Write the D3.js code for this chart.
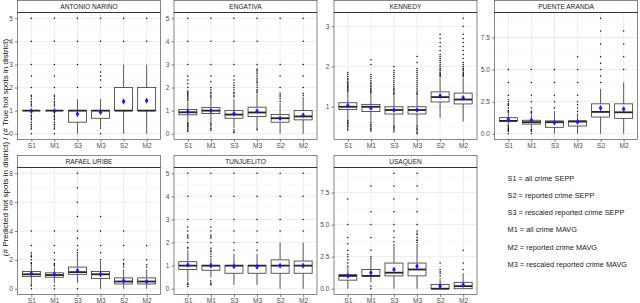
<!DOCTYPE html>
<html>
<head>
<meta charset="utf-8">
<script src="https://cdn.jsdelivr.net/npm/d3@7"></script>
<style>
  body { margin: 0; background: #fff; }
  svg { display: block; font-family: "Liberation Sans", Arial, sans-serif; }
</style>
</head>
<body>
<svg id="chart" width="640" height="303"></svg>
<script>
// categories
const districts = ["ANTONIO NARINO", "ENGATIVA", "KENNEDY", "PUENTE ARANDA",
  "RAFAEL URIBE", "TUNJUELITO", "USAQUEN"];
const methods = ["S1", "M1", "S3", "M3", "S2", "M2"];

// y ticks per district
const yTicks = [
  [0, 1, 2, 3, 4, 5],
  [0, 1, 2, 3, 4, 5],
  [1, 2, 3],
  [0, 2.5, 5, 7.5],
  [0, 2, 4, 6, 8],
  [0, 1, 2, 3, 4, 5],
  [0, 2.5, 5, 7.5]
];
const yMinor = [
  [0.5, 1.5, 2.5, 3.5, 4.5],
  [0.5, 1.5, 2.5, 3.5, 4.5],
  [0.5, 1.5, 2.5],
  [1.25, 3.75, 6.25, 8.75],
  [1, 3, 5, 7],
  [0.5, 1.5, 2.5, 3.5, 4.5],
  [1.25, 3.75, 6.25, 8.75]
];
const yFormat = ["d", "d", "d", ".1f", "d", "d", ".1f"];

// box stats, method order: [lower whisker, q1, median, q3, upper whisker, mean]
const statsAntonio = [
  [1, 1, 1, 1, 1, 0.98], [1, 1, 1, 1, 1, 0.98], [0, 0.5, 1, 1, 1.5, 0.85],
  [0.2, 0.67, 1, 1, 1.5, 0.93], [0, 1, 1, 2, 3, 1.4], [0, 1, 1, 2, 3, 1.43]
];
const statsEngativa = [
  [0.55, 0.82, 0.93, 1.05, 1.4, 0.95], [0.5, 0.88, 1.0, 1.13, 1.5, 1.0],
  [0.25, 0.67, 0.83, 1.0, 1.5, 0.87], [0.25, 0.75, 0.92, 1.15, 1.75, 0.98],
  [0, 0.5, 0.67, 0.83, 1.33, 0.67], [0, 0.6, 0.75, 1.0, 1.6, 0.8]
];
const statsKennedy = [
  [0.7, 0.93, 1.0, 1.1, 1.35, 1.03], [0.62, 0.88, 1.0, 1.06, 1.33, 0.97],
  [0.55, 0.82, 0.92, 1.0, 1.27, 0.92], [0.55, 0.82, 0.92, 1.0, 1.27, 0.92],
  [0.72, 1.12, 1.24, 1.37, 1.72, 1.27], [0.63, 1.07, 1.18, 1.34, 1.72, 1.22]
];
const statsPuente = [
  [0.75, 1.0, 1.0, 1.25, 1.6, 1.1], [0.4, 0.75, 0.9, 1.05, 1.5, 1.05],
  [0, 0.5, 0.9, 1.0, 1.75, 0.87], [0, 0.6, 0.95, 1.0, 1.6, 0.92],
  [0, 1.3, 1.7, 2.33, 3.5, 2.0], [0, 1.2, 1.67, 2.33, 4.0, 1.92]
];
const statsRafael = [
  [0.33, 0.85, 1.0, 1.2, 1.7, 1.05], [0.4, 0.8, 0.95, 1.1, 1.5, 1.0],
  [0.4, 1.0, 1.15, 1.5, 2.25, 1.25], [0, 0.7, 1.0, 1.2, 1.9, 1.0],
  [0, 0.33, 0.5, 0.75, 1.33, 0.55], [0, 0.33, 0.5, 0.75, 1.33, 0.5]
];
const statsTunjuelito = [
  [0.33, 0.83, 1.0, 1.17, 1.67, 1.03], [0.5, 0.8, 1.0, 1.0, 1.33, 1.0],
  [0.17, 0.67, 1.0, 1.0, 1.5, 0.97], [0.17, 0.67, 1.0, 1.0, 1.5, 0.95],
  [0, 0.67, 1.0, 1.25, 2.0, 1.0], [0, 0.67, 1.0, 1.2, 2.0, 1.0]
];
const statsUsaquen = [
  [0, 0.67, 1.0, 1.1, 1.67, 1.0], [0.5, 1.0, 1.0, 1.5, 2.25, 1.25],
  [0, 1.0, 1.25, 2.0, 3.5, 1.5], [0, 1.0, 1.5, 2.0, 3.5, 1.75],
  [0, 0, 0, 0.33, 0.8, 0.2], [0, 0, 0.2, 0.5, 1.2, 0.3]
];

// outliers, method order
const outAntonio = [
  [0, 0.2, 0.25, 0.33, 0.4, 0.5, 0.6, 0.67, 0.75, 0.8, 1.2, 1.25, 1.33, 1.4, 1.5, 1.6, 1.67, 2, 2.5, 3, 4, 5],
  [0, 0.2, 0.25, 0.33, 0.4, 0.5, 0.6, 0.67, 0.75, 0.8, 1.2, 1.25, 1.33, 1.4, 1.5, 1.6, 1.67, 2, 2.5, 3, 4, 5],
  [2, 3, 4, 5],
  [0, 2, 2.33, 2.5, 2.67, 3, 4, 5],
  [4, 5],
  [4, 5]
];
const outEngativa = [
  [0.1, 0.15, 0.2, 0.25, 0.3, 0.33, 0.38, 0.4, 0.45, 0.5, 1.45, 1.5, 1.55, 1.6, 1.67, 1.7, 1.75, 1.8, 1.85, 2, 2.17, 2.33, 2.5, 3, 4, 5],
  [0.15, 0.2, 0.25, 0.33, 0.4, 0.45, 1.55, 1.6, 1.67, 1.75, 1.8, 1.9, 2, 2.25, 2.5, 3, 4, 5],
  [0.05, 0.1, 0.17, 1.6, 1.67, 1.75, 1.8, 1.9, 2, 2.1, 2.2, 2.33, 2.5, 3, 4, 5],
  [0.17, 0.2, 1.8, 1.85, 1.9, 2, 2.1, 2.2, 2.25, 2.33, 2.4, 2.5, 2.6, 2.67, 2.75, 2.8, 3, 4, 5],
  [1.4, 1.5, 1.6, 1.67, 1.75, 2, 2.5, 3, 5],
  [1.67, 1.75, 2, 2.5, 3, 4, 5]
];
const outKennedy = [
  [0.42, 0.45, 0.5, 0.52, 0.55, 0.58, 0.6, 0.62, 0.65, 0.67, 1.37, 1.4, 1.42, 1.45, 1.48, 1.5, 1.52, 1.55, 1.58, 1.6, 1.63, 1.67, 1.7, 1.75, 1.8, 1.85],
  [0.4, 0.43, 0.46, 0.5, 0.53, 0.56, 0.6, 1.35, 1.38, 1.4, 1.43, 1.46, 1.5, 1.53, 1.57, 1.6, 1.65, 1.7, 1.75, 1.8, 2.05, 2.17],
  [0.38, 0.42, 0.45, 0.48, 0.5, 0.53, 1.3, 1.33, 1.36, 1.4, 1.43, 1.46, 1.5, 1.55, 1.6, 1.65, 1.7, 1.75, 1.8, 1.85, 1.9, 2.0],
  [0.33, 0.36, 0.4, 0.43, 0.46, 0.5, 0.53, 1.3, 1.33, 1.36, 1.4, 1.45, 1.5, 1.55, 1.6, 1.65, 1.7, 1.75, 1.8, 1.85, 1.9, 1.95, 2.1, 2.25],
  [1.75, 1.78, 1.8, 1.83, 1.86, 1.9, 1.93, 1.96, 2.0, 2.05, 2.1, 2.15, 2.2, 2.25, 2.3, 2.4, 2.5, 2.6, 2.7, 2.8],
  [1.75, 1.78, 1.8, 1.83, 1.86, 1.9, 1.93, 1.96, 2.0, 2.05, 2.1, 2.2, 2.3, 2.4, 2.5, 2.6, 2.7, 2.8, 3.0, 3.2]
];
const outPuente = [
  [0, 0.2, 0.25, 0.33, 0.4, 0.5, 0.6, 0.67, 1.67, 1.75, 1.8, 2, 2.2, 2.25, 2.33, 2.5, 2.67, 3, 4, 5],
  [0, 0.2, 0.25, 0.33, 1.6, 1.67, 1.75, 2, 2.5, 3, 4, 5],
  [2, 2.5, 3, 4, 5],
  [1.75, 2, 2.25, 2.5, 3, 4, 5, 6],
  [4, 4.5, 5, 5.5, 6, 7, 8, 9],
  [5, 6, 7, 8]
];
const outRafael = [
  [0, 0.2, 0.25, 1.75, 1.8, 2, 2.2, 2.25, 2.33, 2.5, 3, 4],
  [0, 0.2, 1.6, 1.67, 1.75, 2, 2.5, 3, 4],
  [0, 2.33, 2.5, 2.67, 3, 3.5, 4, 5, 6, 7, 8],
  [2, 2.5, 3, 4, 5],
  [1.5, 1.67, 1.75, 2, 3, 4],
  [1.5, 1.67, 2, 3]
];
const outTunjuelito = [
  [0.1, 0.17, 0.2, 0.25, 1.75, 1.8, 2, 2.2, 2.25, 2.33, 2.5, 2.67, 3, 4, 5],
  [0.17, 0.2, 0.25, 0.33, 1.4, 1.5, 1.6, 1.67, 1.75, 2, 2.2, 2.25, 2.33, 2.5, 2.67, 3, 4, 5],
  [1.67, 2, 2.5, 3, 4, 5],
  [1.67, 2, 2.5, 3, 4, 5],
  [2.5, 3, 4, 5],
  [2.5, 3, 4, 5]
];
const outUsaquen = [
  [1.75, 2, 2.25, 2.5, 2.67, 3, 3.5, 4, 5, 7],
  [0, 0.2, 2.33, 2.5, 3, 4, 5, 6, 8],
  [3.67, 4, 4.5, 5, 6, 7, 8, 9],
  [3.6, 3.75, 3.8, 4, 4.2, 4.33, 4.5, 5, 6, 7, 8, 9],
  [1, 1.2, 1.33, 1.5, 2],
  [1.5, 2, 3]
];

const allStats = [statsAntonio, statsEngativa, statsKennedy, statsPuente,
  statsRafael, statsTunjuelito, statsUsaquen];
const allOutliers = [outAntonio, outEngativa, outKennedy, outPuente,
  outRafael, outTunjuelito, outUsaquen];

const legendLines = [
  "S1 = all crime SEPP",
  "S2 = reported crime SEPP",
  "S3 = rescaled reported crime SEPP",
  "M1 = all crime MAVG",
  "M2 = reported crime MAVG",
  "M3 = rescaled reported crime MAVG"
];

const yTitle = "(# Predicted hot spots in district) / (# True hot spots in district)";

// layout
const colX = [17.5, 174, 334, 494.5];
const rowY = [12.5, 167.5];
const panelW = 143;
const panelH = 127;
const stripH = 12;

const svg = d3.select("#chart");

const x = d3.scalePoint().domain(methods).range([0, panelW]).padding(0.6);
const boxW = x.step() * 0.78;

districts.forEach((name, i) => {
  const stats = allStats[i];
  const outs = allOutliers[i];
  const px = colX[i % 4];
  const py = rowY[Math.floor(i / 4)];

  // y domain from data, expanded 5% like ggplot
  const vals = stats.flat().concat(outs.flat());
  const [lo, hi] = d3.extent(vals);
  const pad = (hi - lo) * 0.05;
  const y = d3.scaleLinear().domain([lo - pad, hi + pad]).range([panelH, 0]);

  const g = svg.append("g").attr("transform", `translate(${px},${py})`);

  g.append("rect")
    .attr("width", panelW).attr("height", panelH)
    .attr("fill", "#fff");

  // grid
  g.selectAll(".minor").data(yMinor[i].filter(v => v > lo - pad && v < hi + pad))
    .join("line")
    .attr("x1", 0).attr("x2", panelW)
    .attr("y1", d => y(d)).attr("y2", d => y(d))
    .attr("stroke", "#f2f2f2").attr("stroke-width", 0.5);
  g.selectAll(".major").data(yTicks[i])
    .join("line")
    .attr("x1", 0).attr("x2", panelW)
    .attr("y1", d => y(d)).attr("y2", d => y(d))
    .attr("stroke", "#ebebeb").attr("stroke-width", 0.9);
  g.selectAll(".vgrid").data(methods)
    .join("line")
    .attr("x1", d => x(d)).attr("x2", d => x(d))
    .attr("y1", 0).attr("y2", panelH)
    .attr("stroke", "#ebebeb").attr("stroke-width", 0.9);

  // boxes
  methods.forEach((m, j) => {
    const [wl, q1, med, q3, wh, mean] = stats[j];
    const cx = x(m);
    const bg = g.append("g");
    bg.append("line")
      .attr("x1", cx).attr("x2", cx).attr("y1", y(q3)).attr("y2", y(wh))
      .attr("stroke", "#333").attr("stroke-width", 0.8);
    bg.append("line")
      .attr("x1", cx).attr("x2", cx).attr("y1", y(q1)).attr("y2", y(wl))
      .attr("stroke", "#333").attr("stroke-width", 0.8);
    bg.append("rect")
      .attr("x", cx - boxW / 2).attr("width", boxW)
      .attr("y", y(q3)).attr("height", Math.max(0, y(q1) - y(q3)))
      .attr("fill", "#fff").attr("stroke", "#333").attr("stroke-width", 0.8);
    bg.append("line")
      .attr("x1", cx - boxW / 2).attr("x2", cx + boxW / 2)
      .attr("y1", y(med)).attr("y2", y(med))
      .attr("stroke", "#222").attr("stroke-width", 1.8);
    bg.selectAll("circle").data(outs[j])
      .join("circle")
      .attr("cx", cx).attr("cy", d => y(d)).attr("r", 0.75)
      .attr("fill", "#111");
    bg.append("path")
      .attr("d", d3.symbol(d3.symbolDiamond, 11)())
      .attr("transform", `translate(${cx},${y(mean)})`)
      .attr("fill", "#1a1aff");
  });

  g.append("rect")
    .attr("width", panelW).attr("height", panelH)
    .attr("fill", "none").attr("stroke", "#555").attr("stroke-width", 0.7);

  // strip
  g.append("rect")
    .attr("y", -stripH).attr("width", panelW).attr("height", stripH)
    .attr("fill", "#fff").attr("stroke", "#555").attr("stroke-width", 0.7);
  g.append("line")
    .attr("x1", 0).attr("x2", panelW).attr("y1", 0).attr("y2", 0)
    .attr("stroke", "#333").attr("stroke-width", 1);
  g.append("text")
    .attr("x", panelW / 2).attr("y", -stripH / 2)
    .attr("dy", "0.35em").attr("text-anchor", "middle")
    .attr("font-size", 6.6).attr("fill", "#1a1a1a")
    .text(name);

  // axes
  const yAxis = g.append("g")
    .call(d3.axisLeft(y).tickValues(yTicks[i]).tickSize(2.5).tickPadding(2)
      .tickFormat(d3.format(yFormat[i])));
  const xAxis = g.append("g").attr("transform", `translate(0,${panelH})`)
    .call(d3.axisBottom(x).tickSize(2.5).tickPadding(1.5));
  [yAxis, xAxis].forEach(a => {
    a.select(".domain").remove();
    a.selectAll(".tick line").attr("stroke", "#333").attr("stroke-width", 0.6);
    a.selectAll(".tick text").attr("fill", "#4d4d4d").attr("font-size", 6.6)
      .attr("font-family", "Liberation Sans, Arial, sans-serif");
  });
});

// y title
svg.append("text")
  .attr("transform", `translate(5,${(rowY[0] - stripH + rowY[1] + panelH) / 2}) rotate(-90)`)
  .attr("text-anchor", "middle").attr("dy", "0.35em")
  .attr("font-size", 8).attr("fill", "#111")
  .text(yTitle);

// legend text
svg.append("g")
  .selectAll("text").data(legendLines)
  .join("text")
  .attr("x", 507.5)
  .attr("y", (d, k) => 178.3 + k * 17.2)
  .attr("dy", "0.35em")
  .attr("font-size", 7.4).attr("fill", "#222")
  .text(d => d);
</script>
</body>
</html>
